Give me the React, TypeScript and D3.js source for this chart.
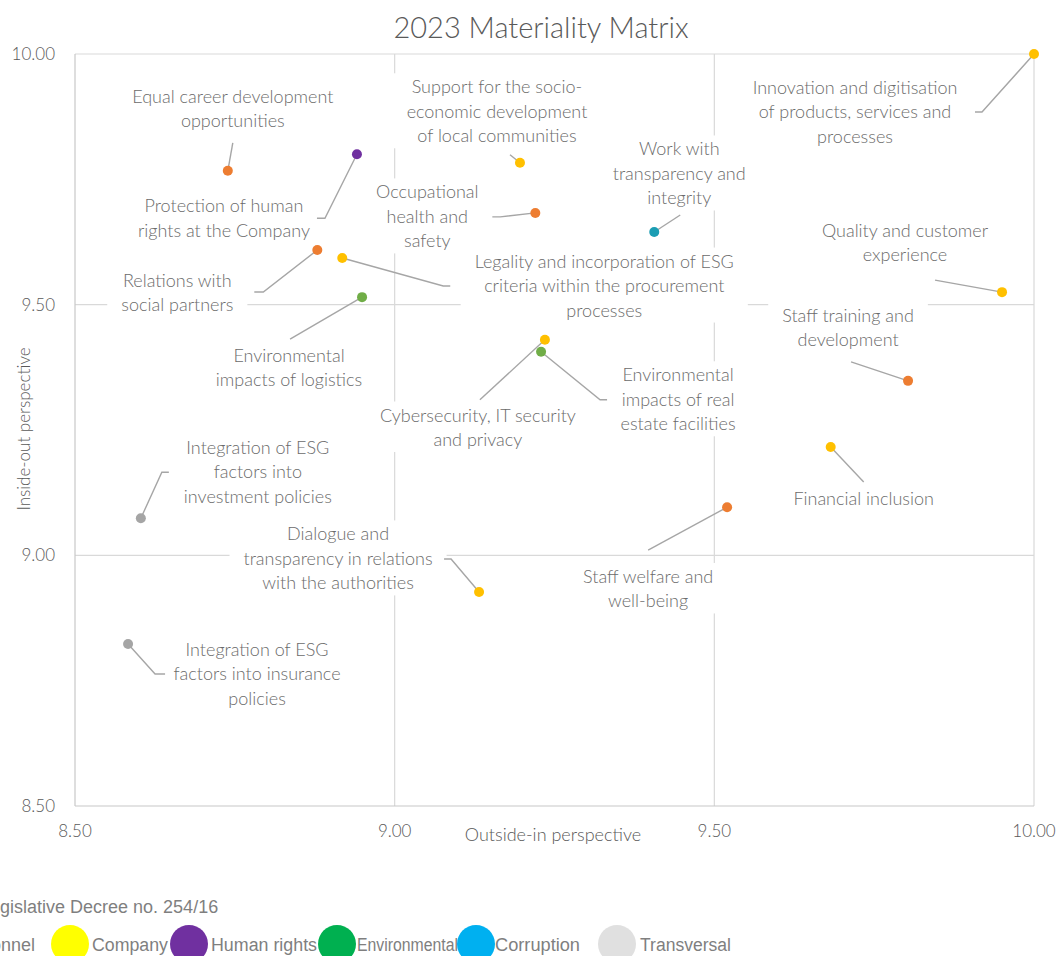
import { useEffect, useRef } from 'react'
import * as d3 from 'd3'

// topics, with the line breaks used in the chart labels
const topics = [
  'Innovation and digitisation\nof products, services and\nprocesses',
  'Equal career development\nopportunities',
  'Protection of human\nrights at the Company',
  'Support for the socio-\neconomic development\nof local communities',
  'Occupational\nhealth and\nsafety',
  'Work with\ntransparency and\nintegrity',
  'Relations with\nsocial partners',
  'Legality and incorporation of ESG\ncriteria within the procurement\nprocesses',
  'Environmental\nimpacts of logistics',
  'Quality and customer\nexperience',
  'Cybersecurity, IT security\nand privacy',
  'Environmental\nimpacts of real\nestate facilities',
  'Staff training and\ndevelopment',
  'Financial inclusion',
  'Integration of ESG\nfactors into\ninvestment policies',
  'Staff welfare and\nwell-being',
  'Dialogue and\ntransparency in relations\nwith the authorities',
  'Integration of ESG\nfactors into insurance\npolicies',
]
const outsideIn = [10.0, 8.739, 8.941, 9.196, 9.22, 9.406, 8.879, 8.918, 8.949, 9.95, 9.235, 9.229, 9.803, 9.682, 8.603, 9.52, 9.132, 8.583]
const insideOut = [10.0, 9.767, 9.8, 9.783, 9.683, 9.645, 9.609, 9.593, 9.515, 9.525, 9.43, 9.406, 9.348, 9.216, 9.074, 9.096, 8.927, 8.823]
const areas = [
  'Company', 'Personnel', 'Human rights', 'Company', 'Personnel', 'Corruption',
  'Personnel', 'Company', 'Environmental', 'Company', 'Company', 'Environmental',
  'Personnel', 'Company', 'Transversal', 'Personnel', 'Company', 'Transversal',
]
const ticks = [8.5, 9.0, 9.5, 10.0]

const legendTitle = 'Legislative Decree no. 254/16'
const legendNames = ['Personnel', 'Company', 'Human rights', 'Environmental', 'Corruption', 'Transversal']
const legendColors = ['#ED7D31', '#FFFF00', '#7030A0', '#00B050', '#00B0F0', '#E0E0E0']

const pointColors: Record<string, string> = {
  Personnel: '#ED7D31',
  Company: '#FFC000',
  'Human rights': '#7030A0',
  Environmental: '#70AD47',
  Corruption: '#1B9DB3',
  Transversal: '#A5A5A5',
}

// label centre offset from point, and leader line points (relative to point)
const labelLayout: { dx: number; dy: number; leader: [number, number][] }[] = [
  { dx: -179, dy: 58, leader: [[-59, 58], [-52, 58]] },
  { dx: 5, dy: -62, leader: [[5, -28]] },
  { dx: -133, dy: 64, leader: [[-40, 64], [-32, 64]] },
  { dx: -23, dy: -51, leader: [[-10, -8]] },
  { dx: -108, dy: 4, leader: [[-43, 4], [-35, 4]] },
  { dx: 25, dy: -58, leader: [[26, -17]] },
  { dx: -140, dy: 43, leader: [[-63, 42], [-54, 42]] },
  { dx: 262, dy: 28, leader: [[108, 28], [101, 28]] },
  { dx: -73, dy: 71, leader: [[-72, 42]] },
  { dx: -97, dy: -49, leader: [[-67, -12]] },
  { dx: -67, dy: 88, leader: [[-65, 60]] },
  { dx: 137, dy: 48, leader: [[66, 48], [59, 48]] },
  { dx: -60, dy: -53, leader: [[-57, -19]] },
  { dx: 33, dy: 52, leader: [[33, 35]] },
  { dx: 117, dy: -46, leader: [[28, -46], [21, -46]] },
  { dx: -79, dy: 82, leader: [[-79, 43]] },
  { dx: -141, dy: -33, leader: [[-35, -33], [-28, -33]] },
  { dx: 129, dy: 30, leader: [[37, 30], [27, 30]] },
]
const legendX = [-92, 70, 189, 337, 476, 617]
const legendTextX = [-46, 92, 211, 357, 495, 640]
const legendTextW = [81, 76, 106, 101, 85, 91]

const W = 1057
const H = 956
const FONT = 'Lato, "Open Sans", sans-serif'

export default function App() {
  const svgRef = useRef<SVGSVGElement>(null)

  useEffect(() => {
    if (!svgRef.current) return
    const svg = d3.select(svgRef.current)
    svg.selectAll('*').remove()

    const x = d3.scaleLinear().domain([8.5, 10]).range([75, 1034])
    const y = d3.scaleLinear().domain([8.5, 10]).range([806, 54])

    svg.append('rect').attr('width', W).attr('height', H).attr('fill', 'white')

    // title
    svg.append('text')
      .attr('x', 541).attr('y', 38)
      .attr('text-anchor', 'middle')
      .attr('font-family', FONT).attr('font-size', 29).attr('font-weight', 300)
      .attr('fill', '#595959')
      .text('2023 Materiality Matrix')

    // grid
    const grid = svg.append('g')
    ticks.slice(1).forEach((t) => {
      grid.append('line')
        .attr('x1', x(t)).attr('x2', x(t)).attr('y1', y(10)).attr('y2', y(8.5))
        .attr('stroke', '#d9d9d9').attr('stroke-width', 1.2)
      grid.append('line')
        .attr('x1', x(8.5)).attr('x2', x(10)).attr('y1', y(t)).attr('y2', y(t))
        .attr('stroke', '#d9d9d9').attr('stroke-width', 1.2)
    })
    grid.append('line')
      .attr('x1', x(8.5)).attr('x2', x(8.5)).attr('y1', y(10)).attr('y2', y(8.5))
      .attr('stroke', '#c8c8c8').attr('stroke-width', 1.2)
    grid.append('line')
      .attr('x1', x(8.5)).attr('x2', x(10)).attr('y1', y(8.5)).attr('y2', y(8.5))
      .attr('stroke', '#c8c8c8').attr('stroke-width', 1.2)

    // tick labels
    ticks.forEach((t) => {
      svg.append('text')
        .attr('x', 55).attr('y', y(t) + 6)
        .attr('text-anchor', 'end')
        .attr('font-family', FONT).attr('font-size', 17).attr('font-weight', 300)
        .attr('fill', '#595959')
        .text(d3.format('.2f')(t))
      svg.append('text')
        .attr('x', x(t)).attr('y', 837)
        .attr('text-anchor', 'middle')
        .attr('font-family', FONT).attr('font-size', 17).attr('font-weight', 300)
        .attr('fill', '#595959')
        .text(d3.format('.2f')(t))
    })

    svg.append('text')
      .attr('x', 553).attr('y', 841)
      .attr('text-anchor', 'middle')
      .attr('font-family', FONT).attr('font-size', 18).attr('font-weight', 300)
      .attr('fill', '#595959')
      .text('Outside-in perspective')
    svg.append('text')
      .attr('transform', `translate(30,${429}) rotate(-90)`)
      .attr('text-anchor', 'middle')
      .attr('font-family', FONT).attr('font-size', 17).attr('font-weight', 300)
      .attr('fill', '#595959')
      .text('Inside-out perspective')

    // labels
    const boxes = svg.append('g')
    const labels = svg.append('g')
    const leaders = svg.append('g')
    const lh = 24.5
    topics.forEach((name, i) => {
      const px = x(outsideIn[i])
      const py = y(insideOut[i])
      const lay = labelLayout[i]
      const lines = name.split('\n')
      const cx = px + lay.dx
      const cy = py + lay.dy
      const t = labels.append('text')
        .attr('text-anchor', 'middle')
        .attr('font-family', FONT).attr('font-size', 18).attr('font-weight', 300)
        .attr('fill', '#6b6b6b')
      lines.forEach((ln, k) => {
        t.append('tspan')
          .attr('x', cx)
          .attr('y', cy + (k - (lines.length - 1) / 2) * lh + 6)
          .text(ln)
      })
      const bb = (t.node() as SVGTextElement).getBBox()
      boxes.append('rect')
        .attr('x', bb.x - 14).attr('y', bb.y - 2)
        .attr('width', bb.width + 28).attr('height', bb.height + 4)
        .attr('fill', 'white')

      const pts: [number, number][] = lay.leader.map(([a, b]) => [px + a, py + b])
      pts.push([px, py])
      leaders.append('path')
        .attr('d', d3.line()(pts))
        .attr('fill', 'none')
        .attr('stroke', '#a6a6a6').attr('stroke-width', 1.4)
    })

    // points
    svg.append('g')
      .selectAll('circle')
      .data(topics.map((_, i) => i))
      .enter()
      .append('circle')
      .attr('cx', (i) => x(outsideIn[i]))
      .attr('cy', (i) => y(insideOut[i]))
      .attr('r', 5)
      .attr('fill', (i) => pointColors[areas[i]])

    // legend
    svg.append('text')
      .attr('x', -20).attr('y', 913)
      .attr('font-family', '"Liberation Sans", Arial, sans-serif').attr('font-size', 18)
      .attr('fill', '#7f7f7f')
      .text(legendTitle)
    legendNames.forEach((n, i) => {
      svg.append('circle')
        .attr('cx', legendX[i]).attr('cy', 944).attr('r', 19)
        .attr('fill', legendColors[i])
      svg.append('text')
        .attr('x', legendTextX[i]).attr('y', 951)
        .attr('font-family', '"Liberation Sans", Arial, sans-serif').attr('font-size', 18)
        .attr('fill', '#7f7f7f')
        .attr('textLength', legendTextW[i]).attr('lengthAdjust', 'spacingAndGlyphs')
        .text(n)
    })
  }, [])

  return (
    <svg
      ref={svgRef}
      width={W}
      height={H}
      style={{ position: 'absolute', left: 0, top: 0, display: 'block' }}
    />
  )
}
